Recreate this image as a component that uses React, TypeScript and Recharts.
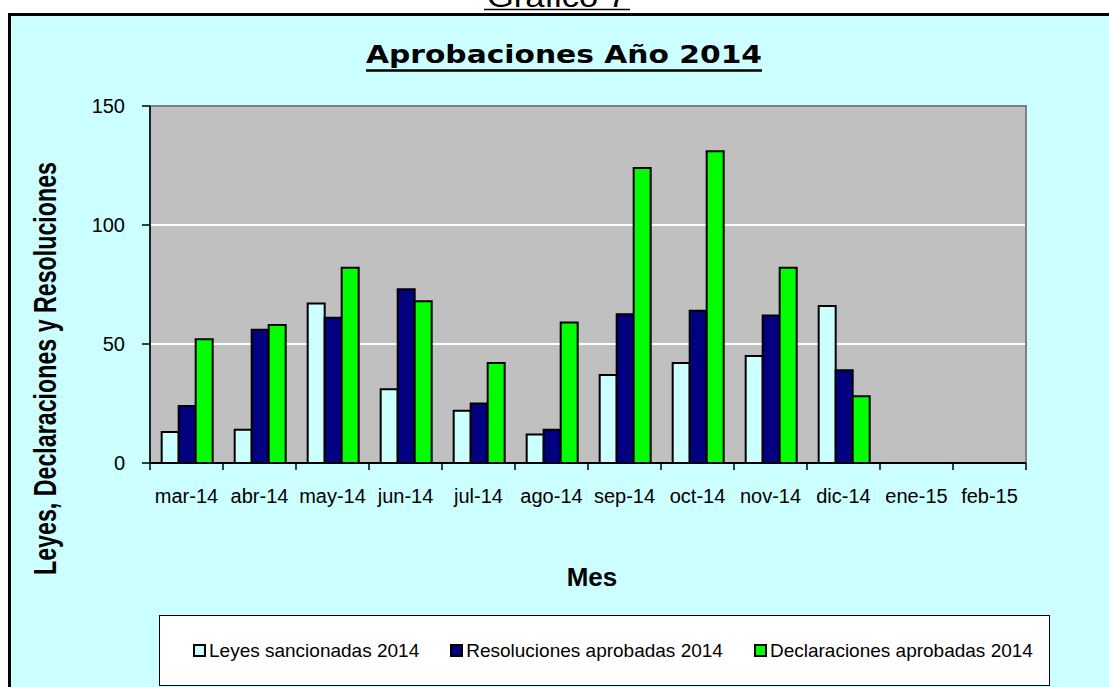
import React from 'react';
import { BarChart, Bar, XAxis, YAxis, CartesianGrid, Legend, ReferenceArea } from 'recharts';

const months = ['mar-14', 'abr-14', 'may-14', 'jun-14', 'jul-14', 'ago-14', 'sep-14', 'oct-14', 'nov-14', 'dic-14', 'ene-15', 'feb-15'];
const leyes = [13, 14, 67, 31, 22, 12, 37, 42, 45, 66, null, null];
const resoluciones = [24, 56, 61, 73, 25, 14, 62.5, 64, 62, 39, null, null];
const declaraciones = [52, 58, 82, 68, 42, 59, 124, 131, 82, 28, null, null];
const yTicks = [0, 50, 100, 150];
const seriesNames = ['Leyes sancionadas 2014', 'Resoluciones aprobadas 2014', 'Declaraciones aprobadas 2014'];
const seriesColors = ['#CCFFFF', '#000080', '#00FF00'];

const data = months.map((m, i) => ({
  month: m,
  leyes: leyes[i],
  resoluciones: resoluciones[i],
  declaraciones: declaraciones[i],
}));

const FONT = '"Liberation Sans", Arial, sans-serif';
const CHART_W = 1109;
const CHART_H = 687;
const MARGIN = { top: 106, right: 83, bottom: 223, left: 90 };
const Y_AXIS_W = 60;
const PLOT_W = CHART_W - MARGIN.left - MARGIN.right - Y_AXIS_W;
const BAND = PLOT_W / months.length;

const CategoryTick = (props: any) => {
  const { x, y, payload, index } = props;
  const half = BAND / 2;
  const isLast = index === months.length - 1;
  return (
    <g>
      <line x1={x - half} x2={x - half} y1={y} y2={y + 7} stroke="#000" strokeWidth={1.5} />
      {isLast && <line x1={x + half} x2={x + half} y1={y} y2={y + 7} stroke="#000" strokeWidth={1.5} />}
      <text x={x} y={y + 26} dy="0.71em" textAnchor="middle" fontFamily={FONT} fontSize={20} fill="#000">
        {payload.value}
      </text>
    </g>
  );
};

const renderLegend = (props: any) => {
  const payload = [...(props.payload || [])].sort(
    (a: any, b: any) => seriesNames.indexOf(a.value) - seriesNames.indexOf(b.value)
  );
  return (
    <div
      style={{
        width: '100%',
        height: '100%',
        boxSizing: 'border-box',
        border: '1px solid #000',
        background: '#fff',
        display: 'flex',
        alignItems: 'center',
        paddingLeft: 33,
        whiteSpace: 'nowrap',
      }}
    >
      {payload.map((entry: any, i: number) => (
        <div key={i} style={{ display: 'flex', alignItems: 'center', marginRight: 31, flexShrink: 0 }}>
          <span
            style={{
              display: 'inline-block',
              width: 9,
              height: 9,
              border: '2px solid #000',
              background: entry.color,
              marginRight: 3,
              flexShrink: 0,
            }}
          />
          <span style={{ fontFamily: FONT, fontSize: 19, color: '#000', lineHeight: 1, whiteSpace: 'nowrap' }}>
            {entry.value}
          </span>
        </div>
      ))}
    </div>
  );
};

export default function App() {
  return (
    <div style={{ position: 'absolute', left: 0, top: 0, width: CHART_W, height: CHART_H, overflow: 'hidden', background: '#fff' }}>
      <div
        style={{
          position: 'absolute',
          left: 8,
          top: 13,
          width: 1130,
          height: 700,
          background: '#CCFFFF',
          borderLeft: '3px solid #000',
          borderTop: '3px solid #000',
        }}
      />
      <div style={{ position: 'absolute', left: 0, top: 0 }}>
        <BarChart
          width={CHART_W}
          height={CHART_H}
          data={data}
          margin={MARGIN}
          barCategoryGap="16%"
          barGap={0}
        >
          <CartesianGrid xAxisId="cat" fill="#C0C0C0" vertical={false} stroke="#FFFFFF" strokeWidth={2} />
          <ReferenceArea xAxisId="cat" y1={0} y2={150} fill="none" stroke="#808080" strokeWidth={2} fillOpacity={0} />
          <XAxis
            xAxisId="cat"
            dataKey="month"
            interval={0}
            height={1}
            tickLine={false}
            tickSize={0}
            tickMargin={0}
            axisLine={{ stroke: '#000', strokeWidth: 2 }}
            tick={<CategoryTick />}
          />
          <YAxis
            domain={[0, 150]}
            ticks={yTicks}
            width={Y_AXIS_W}
            tickSize={8}
            tickMargin={17}
            axisLine={{ stroke: '#000', strokeWidth: 1.5 }}
            tickLine={{ stroke: '#000', strokeWidth: 1.5 }}
            tick={{ fill: '#000', fontSize: 20, fontFamily: FONT }}
          />
          <Bar xAxisId="cat" dataKey="leyes" name={seriesNames[0]} fill={seriesColors[0]} stroke="#000" strokeWidth={2} isAnimationActive={false} />
          <Bar xAxisId="cat" dataKey="resoluciones" name={seriesNames[1]} fill={seriesColors[1]} stroke="#000" strokeWidth={2} isAnimationActive={false} />
          <Bar xAxisId="cat" dataKey="declaraciones" name={seriesNames[2]} fill={seriesColors[2]} stroke="#000" strokeWidth={2} isAnimationActive={false} />
          <Legend
            layout="horizontal"
            verticalAlign="middle"
            align="center"
            wrapperStyle={{ left: 159, top: 615, width: 891, height: 71, right: 'auto', bottom: 'auto' }}
            content={renderLegend}
          />
        </BarChart>
      </div>
      <svg width={CHART_W} height={CHART_H} style={{ position: 'absolute', left: 0, top: 0, pointerEvents: 'none' }}>
        <text x={557} y={7} textAnchor="middle" fontFamily={FONT} fontSize={30} fill="#000" textLength={140} lengthAdjust="spacingAndGlyphs">
          Gráfico 7
        </text>
        <line x1={484} x2={630} y1={9.5} y2={9.5} stroke="#000" strokeWidth={1.5} />
        <text
          x={564}
          y={63}
          textAnchor="middle"
          fontFamily='"DejaVu Sans", Verdana, sans-serif'
          fontWeight="bold"
          fontSize={24}
          fill="#000"
          textLength={396}
          lengthAdjust="spacingAndGlyphs"
        >
          Aprobaciones Año 2014
        </text>
        <line x1={366} x2={762} y1={70.5} y2={70.5} stroke="#000" strokeWidth={2.5} />
        <text
          transform="translate(56, 368.5) rotate(-90)"
          x={0}
          y={0}
          textAnchor="middle"
          fontFamily={FONT}
          fontWeight="bold"
          fontSize={32}
          fill="#000"
          textLength={413}
          lengthAdjust="spacingAndGlyphs"
        >
          Leyes, Declaraciones y Resoluciones
        </text>
        <text x={592} y={586} textAnchor="middle" fontFamily={FONT} fontWeight="bold" fontSize={26} fill="#000">
          Mes
        </text>
      </svg>
    </div>
  );
}
